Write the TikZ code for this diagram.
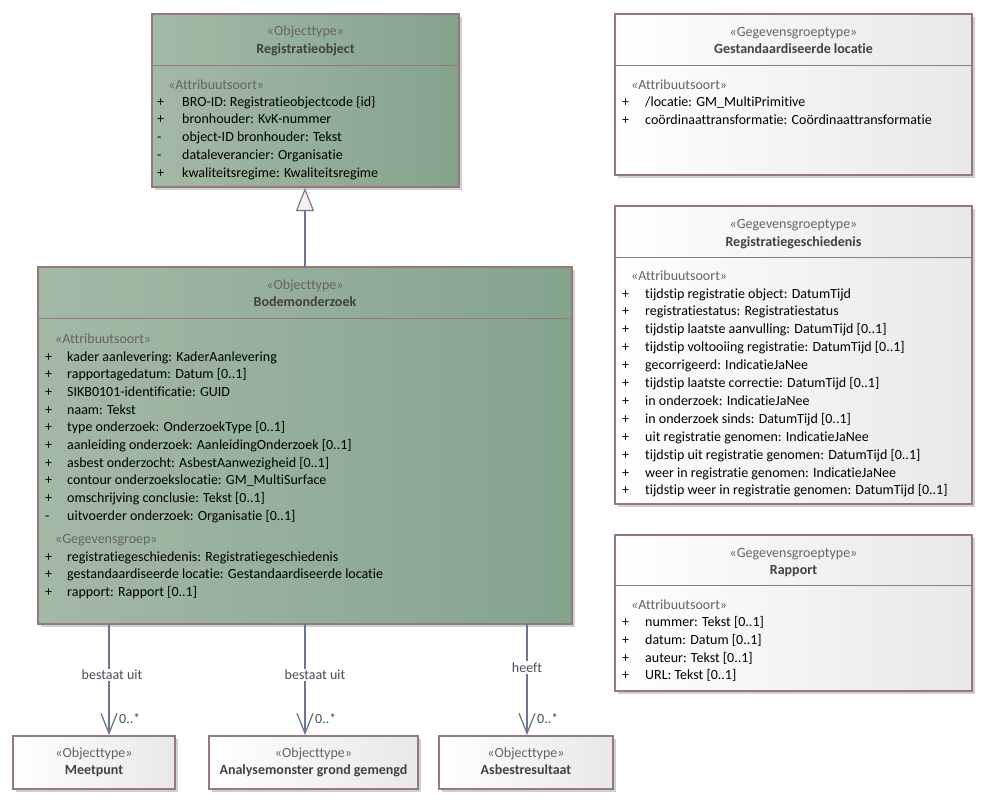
\documentclass[tikz,border=0pt]{standalone}
\usepackage{fontspec}
\setmainfont{Carlito}[Ligatures={NoCommon}]
\usetikzlibrary{arrows.meta,shadows}
\definecolor{bord}{RGB}{150,120,125}
\definecolor{greenL}{RGB}{164,185,165}
\definecolor{greenR}{RGB}{132,163,141}
\definecolor{whiteR}{RGB}{232,232,232}
\definecolor{shad}{RGB}{208,208,208}
\definecolor{conn}{RGB}{108,118,148}
\definecolor{stereoc}{RGB}{100,100,100}
\definecolor{titlec}{RGB}{65,65,65}
\definecolor{attrc}{RGB}{0,0,0}
\definecolor{lblc}{RGB}{75,75,90}
\definecolor{trifill}{RGB}{251,240,234}
\newcommand\bfont{\fontsize{14}{16}\selectfont}
\newcommand\umlattr[6]{%
  \node[attrtext] (#1s) at (#2,#4) {#5};
  \node[attrtext] (#1t) at (#3,#4) {#6};}
\tikzset{
  umlbox/.style={draw=bord, line width=2.4pt, anchor=north west, inner sep=0pt, outer sep=0pt,
    drop shadow={shadow xshift=3pt, shadow yshift=-3pt, fill=shad, opacity=1}},
  greenbox/.style={umlbox, left color=greenL, right color=greenR},
  whitebox/.style={umlbox, left color=white, right color=whiteR},
  divline/.style={draw=bord, line width=1pt},
  stereotext/.style={anchor=base, inner sep=0pt, font=\bfont, text=stereoc},
  titletext/.style={anchor=base, inner sep=0pt, font=\bfont\bfseries, text=titlec},
  secttext/.style={anchor=base west, inner sep=0pt, font=\bfont, text=stereoc},
  attrtext/.style={anchor=base west, inner sep=0pt, font=\bfont, text=attrc},
  assoc/.style={draw=conn, line width=1.3pt, -{Straight Barb[length=20pt,width=16pt,line width=1.3pt]}, shorten >=1pt},
  gen/.style={draw=conn, line width=1.3pt, -{Triangle[length=23pt,width=18pt,fill=trifill,line width=1.1pt]}, shorten >=1pt},
  lbl/.style={fill=white, inner sep=1.5pt, font=\bfont, text=lblc},
  mult/.style={anchor=base west, inner sep=0pt, font=\bfont, text=lblc}
}
\begin{document}
\begin{tikzpicture}[x=1pt,y=-1pt]
\useasboundingbox[fill=white] (0,0) rectangle (991,807);

% ---------------- Registratieobject
\node[greenbox, minimum width=307pt, minimum height=173pt] (reg) at (152,14) {};
\draw[divline] ([yshift=-51pt]reg.north west) -- ([yshift=-51pt]reg.north east);
\node[stereotext] (regs) at (305.5,35) {«Objecttype»};
\node[titletext] (regt) at (305.5,53) {Registratieobject};
\node[secttext] (rega) at (168,89) {«Attribuutsoort»};
\umlattr{rega1}{157}{182}{106}{+}{BRO-ID: Registratieobjectcode \{id\}}
\umlattr{rega2}{157}{182}{123.8}{+}{bronhouder: KvK-nummer}
\umlattr{rega3}{157}{182}{141.6}{-}{object-ID bronhouder: Tekst}
\umlattr{rega4}{157}{182}{159.4}{-}{dataleverancier: Organisatie}
\umlattr{rega5}{157}{182}{177.2}{+}{kwaliteitsregime: Kwaliteitsregime}

% ---------------- Bodemonderzoek
\node[greenbox, minimum width=534pt, minimum height=357pt] (bod) at (38,267) {};
\draw[divline] ([yshift=-51pt]bod.north west) -- ([yshift=-51pt]bod.north east);
\node[stereotext] (bods) at (305,289) {«Objecttype»};
\node[titletext] (bodt) at (305,306) {Bodemonderzoek};
\node[secttext] (boda) at (55,343) {«Attribuutsoort»};
\umlattr{boda1}{45}{67}{361}{+}{kader aanlevering: KaderAanlevering}
\umlattr{boda2}{45}{67}{378.7}{+}{rapportagedatum: Datum [0..1]}
\umlattr{boda3}{45}{67}{396.4}{+}{SIKB0101-identificatie: GUID}
\umlattr{boda4}{45}{67}{414.1}{+}{naam: Tekst}
\umlattr{boda5}{45}{67}{431.8}{+}{type onderzoek: OnderzoekType [0..1]}
\umlattr{boda6}{45}{67}{449.5}{+}{aanleiding onderzoek: AanleidingOnderzoek [0..1]}
\umlattr{boda7}{45}{67}{467.2}{+}{asbest onderzocht: AsbestAanwezigheid [0..1]}
\umlattr{boda8}{45}{67}{484.9}{+}{contour onderzoekslocatie: GM\_MultiSurface}
\umlattr{boda9}{45}{67}{502.6}{+}{omschrijving conclusie: Tekst [0..1]}
\umlattr{boda10}{45}{67}{520.3}{-}{uitvoerder onderzoek: Organisatie [0..1]}
\node[secttext] (bodg) at (55,543) {«Gegevensgroep»};
\umlattr{bodg1}{45}{67}{561}{+}{registratiegeschiedenis: Registratiegeschiedenis}
\umlattr{bodg2}{45}{67}{578.7}{+}{gestandaardiseerde locatie: Gestandaardiseerde locatie}
\umlattr{bodg3}{45}{67}{596.4}{+}{rapport: Rapport [0..1]}

% ---------------- Gestandaardiseerde locatie
\node[whitebox, minimum width=357pt, minimum height=161pt] (gl) at (615,14) {};
\draw[divline] ([yshift=-51pt]gl.north west) -- ([yshift=-51pt]gl.north east);
\node[stereotext] (gls) at (793.5,36) {«Gegevensgroeptype»};
\node[titletext] (glt) at (793.5,53) {Gestandaardiseerde locatie};
\node[secttext] (gla) at (631,89) {«Attribuutsoort»};
\umlattr{gla1}{622}{645}{106.5}{+}{/locatie: GM\_MultiPrimitive}
\umlattr{gla2}{622}{645}{124.3}{+}{coördinaattransformatie: Coördinaattransformatie}

% ---------------- Registratiegeschiedenis
\node[whitebox, minimum width=357pt, minimum height=298pt] (rg) at (615,206) {};
\draw[divline] ([yshift=-51pt]rg.north west) -- ([yshift=-51pt]rg.north east);
\node[stereotext] (rgs) at (793.5,228) {«Gegevensgroeptype»};
\node[titletext] (rgt) at (793.5,246) {Registratiegeschiedenis};
\node[secttext] (rga) at (631,280) {«Attribuutsoort»};
\umlattr{rga1}{622}{645}{298}{+}{tijdstip registratie object: DatumTijd}
\umlattr{rga2}{622}{645}{315.9}{+}{registratiestatus: Registratiestatus}
\umlattr{rga3}{622}{645}{333.8}{+}{tijdstip laatste aanvulling: DatumTijd [0..1]}
\umlattr{rga4}{622}{645}{351.7}{+}{tijdstip voltooiing registratie: DatumTijd [0..1]}
\umlattr{rga5}{622}{645}{369.6}{+}{gecorrigeerd: IndicatieJaNee}
\umlattr{rga6}{622}{645}{387.5}{+}{tijdstip laatste correctie: DatumTijd [0..1]}
\umlattr{rga7}{622}{645}{405.4}{+}{in onderzoek: IndicatieJaNee}
\umlattr{rga8}{622}{645}{423.3}{+}{in onderzoek sinds: DatumTijd [0..1]}
\umlattr{rga9}{622}{645}{441.2}{+}{uit registratie genomen: IndicatieJaNee}
\umlattr{rga10}{622}{645}{459.1}{+}{tijdstip uit registratie genomen: DatumTijd [0..1]}
\umlattr{rga11}{622}{645}{477}{+}{weer in registratie genomen: IndicatieJaNee}
\umlattr{rga12}{622}{645}{494.9}{+}{tijdstip weer in registratie genomen: DatumTijd [0..1]}

% ---------------- Rapport
\node[whitebox, minimum width=357pt, minimum height=156pt] (rap) at (615,535) {};
\draw[divline] ([yshift=-50pt]rap.north west) -- ([yshift=-50pt]rap.north east);
\node[stereotext] (raps) at (793.5,557) {«Gegevensgroeptype»};
\node[titletext] (rapt) at (793.5,574) {Rapport};
\node[secttext] (rapa) at (631,609) {«Attribuutsoort»};
\umlattr{rapa1}{622}{645}{626.5}{+}{nummer: Tekst [0..1]}
\umlattr{rapa2}{622}{645}{644.3}{+}{datum: Datum [0..1]}
\umlattr{rapa3}{622}{645}{662.1}{+}{auteur: Tekst [0..1]}
\umlattr{rapa4}{622}{645}{679.9}{+}{URL: Tekst [0..1]}

% ---------------- bottom boxes
\node[whitebox, minimum width=162pt, minimum height=53pt] (meet) at (13,736) {};
\node[stereotext] (meets) at (94,757) {«Objecttype»};
\node[titletext] (meett) at (94,774) {Meetpunt};
\node[whitebox, minimum width=209pt, minimum height=53pt] (anal) at (209,736) {};
\node[stereotext] (anals) at (313.5,757) {«Objecttype»};
\node[titletext] (analt) at (313.5,774) {Analysemonster grond gemengd};
\node[whitebox, minimum width=174pt, minimum height=53pt] (asb) at (439,736) {};
\node[stereotext] (asbs) at (526,757) {«Objecttype»};
\node[titletext] (asbt) at (526,774) {Asbestresultaat};

% ---------------- connectors
\coordinate (xg) at (305,0);
\coordinate (x1) at (109,0);
\coordinate (x2) at (305,0);
\coordinate (x3) at (527,0);
\draw[gen] (bod.north -| xg) -- (reg.south -| xg);
\draw[assoc] (bod.south -| x1) -- (meet.north -| x1) node[lbl, pos=0.455, xshift=3pt] (l1) {bestaat uit};
\draw[assoc] (bod.south -| x2) -- (anal.north -| x2) node[lbl, pos=0.455, xshift=10pt] (l2) {bestaat uit};
\draw[assoc] (bod.south -| x3) -- (asb.north -| x3) node[lbl, pos=0.39] (l3) {heeft};
\node[mult] (m1) at ([xshift=10pt,yshift=13pt]meet.north -| x1) {0..*};
\node[mult] (m2) at ([xshift=10pt,yshift=13pt]anal.north -| x2) {0..*};
\node[mult] (m3) at ([xshift=10pt,yshift=13pt]asb.north -| x3) {0..*};
\end{tikzpicture}
\end{document}
